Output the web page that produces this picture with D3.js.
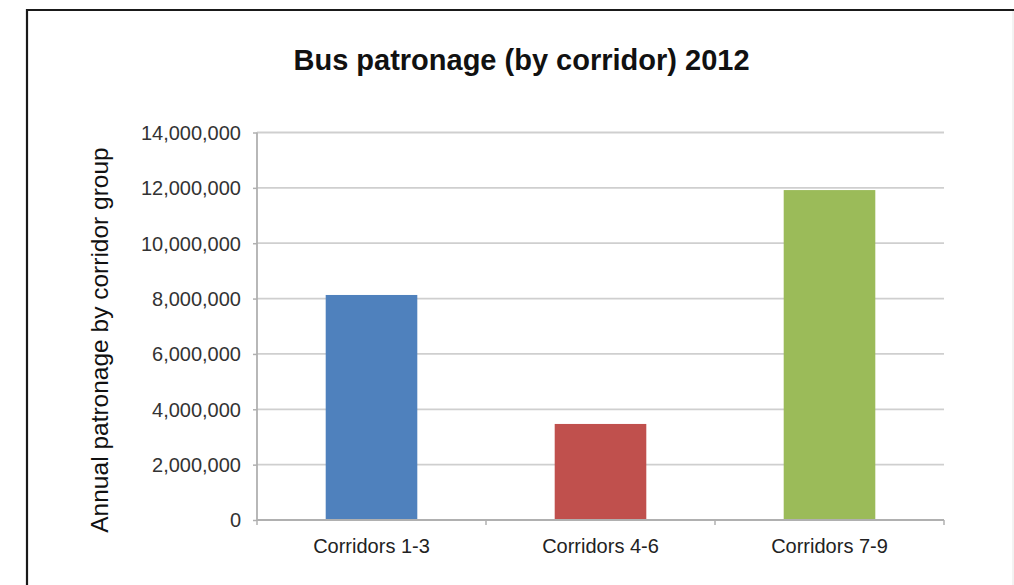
<!DOCTYPE html>
<html>
<head>
<meta charset="utf-8">
<script src="https://cdn.jsdelivr.net/npm/d3@7"></script>
<style>
  html, body { margin: 0; padding: 0; background: #fff; }
  svg { display: block; }
  text { font-family: "Liberation Sans", Arial, Helvetica, sans-serif; }
</style>
</head>
<body>
<svg id="chart" width="1014" height="585"></svg>
<script>
const title = "Bus patronage (by corridor) 2012";
const yAxisTitle = "Annual patronage by corridor group";
const categories = ["Corridors 1-3", "Corridors 4-6", "Corridors 7-9"];
const values = [8130000, 3470000, 11920000];
const colors = ["#4F81BD", "#C0504D", "#9BBB59"];
const yTicks = [0, 2000000, 4000000, 6000000, 8000000, 10000000, 12000000, 14000000];

const svg = d3.select("#chart");
const W = 1014, H = 585;
svg.append("rect").attr("width", W).attr("height", H).attr("fill", "#fff");

// frame
svg.append("path")
  .attr("d", `M27,${H} L27,10 L${W},10`)
  .attr("fill", "none").attr("stroke", "#1a1a1a").attr("stroke-width", 2.2);
svg.append("line").attr("x1", 1013).attr("x2", 1013).attr("y1", 11).attr("y2", H)
  .attr("stroke", "#e6e6e6").attr("stroke-width", 1);

const plot = { left: 257, right: 944, top: 132.5, bottom: 520 };

const x = d3.scaleBand().domain(categories)
  .range([plot.left, plot.right]).paddingInner(0.6).paddingOuter(0.3);
const xb = d3.scaleBand().domain(categories).range([plot.left, plot.right]);
const y = d3.scaleLinear().domain([0, 14000000]).range([plot.bottom, plot.top]);

// gridlines
svg.append("g").selectAll("line").data(yTicks.filter(d => d > 0)).join("line")
  .attr("x1", plot.left).attr("x2", plot.right)
  .attr("y1", d => y(d)).attr("y2", d => y(d))
  .attr("stroke", "#cfcfcf").attr("stroke-width", 1.8);

// title
svg.append("text").attr("x", 521.5).attr("y", 70)
  .attr("text-anchor", "middle").attr("font-size", 29).attr("font-weight", "bold")
  .attr("fill", "#111").text(title);

// y axis
const yAxis = d3.axisLeft(y).tickValues(yTicks).tickSize(4).tickPadding(12)
  .tickFormat(d3.format(","));
const gy = svg.append("g").attr("transform", `translate(${plot.left},0)`).call(yAxis);
gy.select(".domain").attr("stroke", "#b0b0b0").attr("stroke-width", 1.8).attr("d", `M0,${plot.top}V${plot.bottom}`);
gy.selectAll(".tick line").attr("stroke", "#b0b0b0").attr("stroke-width", 1.5);
gy.selectAll(".tick text").attr("font-size", 20).attr("fill", "#333")
  .attr("font-family", "'Liberation Sans', Arial, sans-serif").attr("dy", "0.34em");

// bars
svg.append("g").selectAll("rect").data(values).join("rect")
  .attr("x", (d, i) => x(categories[i]))
  .attr("width", x.bandwidth())
  .attr("y", d => y(d))
  .attr("height", d => y(0) - y(d))
  .attr("fill", (d, i) => colors[i]);

// x axis
const gx = svg.append("g").attr("transform", `translate(0,${plot.bottom})`);
gx.append("line").attr("x1", plot.left).attr("x2", plot.right)
  .attr("stroke", "#b0b0b0").attr("stroke-width", 1.8);
const bounds = categories.map(c => xb(c)).concat([xb(categories[categories.length - 1]) + xb.bandwidth()]);
gx.selectAll("line.sep").data(bounds).join("line").attr("class", "sep")
  .attr("x1", d => d).attr("x2", d => d).attr("y1", 0).attr("y2", 5)
  .attr("stroke", "#b0b0b0").attr("stroke-width", 1.5);
gx.selectAll("text").data(categories).join("text")
  .attr("x", d => xb(d) + xb.bandwidth() / 2).attr("y", 33)
  .attr("text-anchor", "middle").attr("font-size", 20).attr("fill", "#222").text(d => d);

// y axis title
svg.append("text")
  .attr("transform", `translate(108,340) rotate(-90)`)
  .attr("text-anchor", "middle").attr("font-size", 24.5).attr("fill", "#111")
  .text(yAxisTitle);
</script>
</body>
</html>
